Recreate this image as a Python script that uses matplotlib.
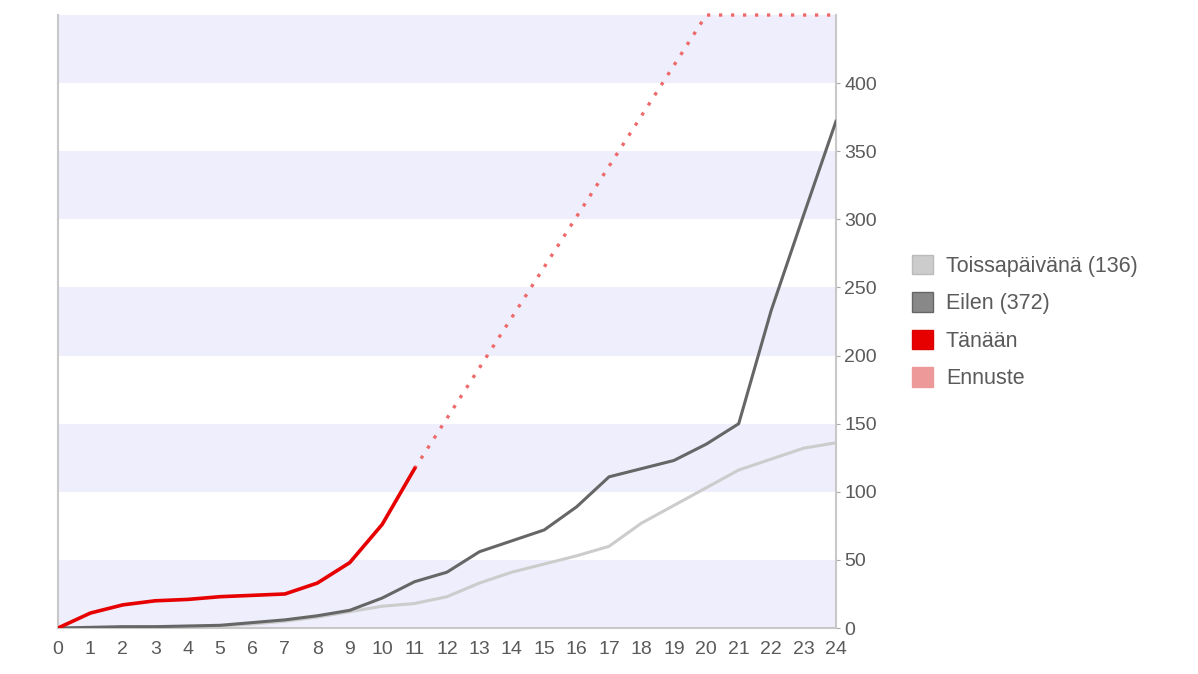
import numpy as np
import matplotlib.pyplot as plt
from matplotlib.patches import Patch

plt.rcParams['font.family'] = ['Liberation Sans', 'DejaVu Sans']

# Tunnit
tunnit = np.arange(0, 25)

# Toissapäivänä (136)
toissapaivana = [0, 0, 0.5, 1, 1, 1.5, 3, 5, 8, 12, 16, 18, 23, 33, 41, 47, 53, 60,
                 77, 90, 103, 116, 124, 132, 136]
# Eilen (372)
eilen = [0, 0.5, 1, 1, 1.5, 2, 4, 6, 9, 13, 22, 34, 41, 56, 64, 72, 89, 111,
         117, 123, 135, 150, 233, 303, 372]
# Tänään (tunnit 0-11)
tanaan_tunnit = np.arange(0, 12)
tanaan = [0, 11, 17, 20, 21, 23, 24, 25, 33, 48, 76, 117]
# Ennuste (tunnit 11-24)
ennuste_tunnit = np.arange(11, 25)
ennuste = [117, 154, 191, 228, 265, 302, 339, 376, 413, 450, 450, 450, 450, 450]

y_ticks = [0, 50, 100, 150, 200, 250, 300, 350, 400]

tekstin_vari = "#5a5a5a"

fig = plt.figure(figsize=(11.98, 6.74), dpi=100)
ax = fig.add_axes([0.0484, 0.0682, 0.6494, 0.9095])

# Raidat taustaan
for y0 in range(0, 450, 100):
    ax.axhspan(y0, y0 + 50, color="#eeeefc", zorder=0, linewidth=0)

ax.plot(tunnit, toissapaivana, color="#cccccc", linewidth=2.2, zorder=2)
ax.plot(tunnit, eilen, color="#666666", linewidth=2.2, zorder=3)
ax.plot(ennuste_tunnit, ennuste, color="#ee6a6a", linewidth=2.4,
        linestyle=(0, (1, 2.6)), zorder=3, clip_on=False)
ax.plot(tanaan_tunnit, tanaan, color="#e60000", linewidth=2.6, zorder=4)

ax.set_xlim(0, 24)
ax.set_ylim(0, 450)
ax.set_xticks(tunnit)
ax.set_yticks(y_ticks)
ax.yaxis.tick_right()
ax.tick_params(axis="y", colors="#aaaaaa", labelcolor=tekstin_vari,
               labelsize=14, length=3, pad=3)
ax.tick_params(axis="x", length=0, labelcolor=tekstin_vari, labelsize=14, pad=9)

for s in ["left", "right", "bottom"]:
    ax.spines[s].set_color("#c8c8c8")
    ax.spines[s].set_linewidth(1.5)
ax.spines["top"].set_visible(False)

handles = [
    Patch(facecolor="#cccccc", edgecolor="#bbbbbb", label="Toissapäivänä (136)"),
    Patch(facecolor="#888888", edgecolor="#666666", label="Eilen (372)"),
    Patch(facecolor="#e60000", edgecolor="#dd0000", label="Tänään"),
    Patch(facecolor="#ee9999", edgecolor="#ee9999", label="Ennuste"),
]
fig.legend(handles=handles, loc="center left", bbox_to_anchor=(0.745, 0.522),
           frameon=False, fontsize=15.5, labelcolor=tekstin_vari,
           handlelength=0.98, handleheight=1.0, handletextpad=0.6,
           labelspacing=0.72)

fig.savefig("out.png", dpi=100)
